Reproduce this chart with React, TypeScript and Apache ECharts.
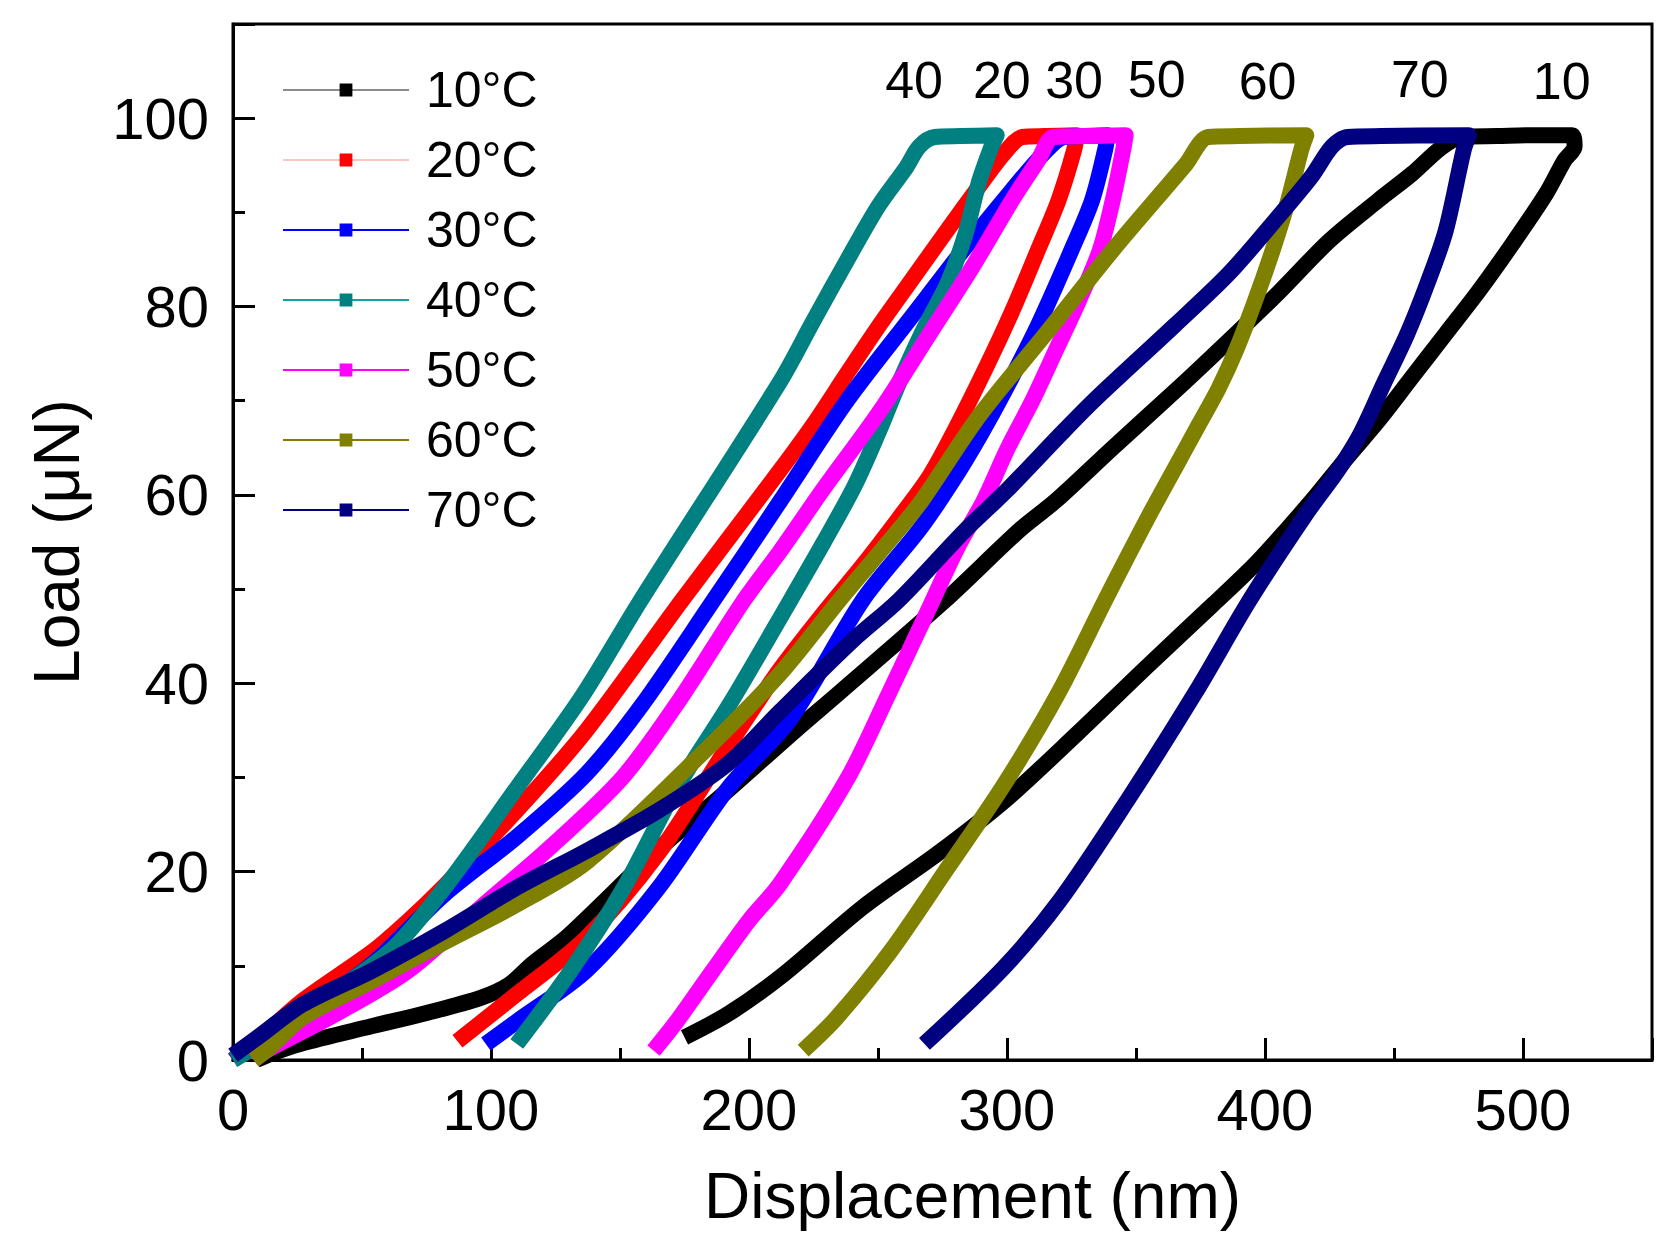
import { useEffect, useRef } from "react";
import * as echarts from "echarts";

const FONT = "'Liberation Sans', Arial, sans-serif";

const seriesNames = ["10°C", "20°C", "30°C", "40°C", "50°C", "60°C", "70°C"];
const seriesColors = ["#000000", "#ff0000", "#0000ff", "#008080", "#ff00ff", "#808000", "#000080"];
const legendLineColors = ["#8c8c8c", "#ffc4c4", "#0000ff", "#17a2a2", "#ff00ff", "#8a7a00", "#000080"];

// displacement (nm), load (uN): loading -> hold -> unloading
const curve10 = [
  [9, 0], [15, 0.7], [26, 1.7], [54, 3.6], [75, 5], [96, 6.6], [107, 8], [116, 10.2], [130, 13.2],
  [165, 22.4], [190, 28.2], [218, 35], [235, 39], [276, 48.8], [305, 56.3], [319, 59.4], [341, 65],
  [367, 71.5], [386, 76.4], [405, 81.4], [425, 87], [444, 91.3], [457, 94.1], [468, 96.8], [476, 98],
  [490, 98.1], [505, 98.2], [519, 98.2],
  [520, 97], [516, 95.5], [509, 92], [496, 86.7], [483, 81.7], [470, 77.1], [457, 72.5], [444, 67.9],
  [431, 63.7], [420, 60], [408, 56.2], [396, 52.6], [380, 48.4], [354, 41.7], [327, 34.6], [299, 27.5],
  [273, 21.9], [244, 16.2], [213, 9], [192, 4.9], [175, 2.4],
];
const curve20 = [
  [0, 0], [10, 2.2], [27, 6.3], [54, 11.5], [68, 14.8], [82, 18.5], [110, 26.5], [137, 35],
  [174, 48.8], [212, 62.6], [225, 67.5], [238, 72.9], [250, 77.8], [263, 82.8], [276, 87.8], [289, 92.7],
  [299, 96.3], [306, 98],
  [315, 98.1], [327, 98.2],
  [326, 96.6], [320, 91.3], [312, 86], [302, 79.5], [292, 73.6], [280, 67], [270, 62], [258, 57.5],
  [244, 52.5], [229, 47.5], [212, 41.5], [202, 37.5], [190, 32.5], [165, 22], [137, 13], [110, 7], [87, 2],
];
const curve30 = [
  [0, 0], [10, 2], [30, 5.5], [54, 10.2], [82, 17.6], [110, 23.7], [137, 30.4], [158, 37.5], [185, 48.3],
  [212, 59.3], [238, 70], [263, 78.9], [283, 86], [302, 92.4], [314, 96.2], [322, 98],
  [330, 98.1], [339, 98.2],
  [338, 96.6], [333, 91.3], [325, 86], [312, 78], [300, 71.5], [290, 66.5], [279, 61.5], [266, 56.3],
  [244, 48.8], [216, 36.2], [192, 28.9], [165, 18.3], [137, 9.5], [110, 4.1], [98, 1.7],
];
const curve40 = [
  [0, 0], [12, 2], [30, 5.5], [61, 11.6], [82, 18.3], [110, 28.9], [135, 38.5], [158, 48.8], [212, 72],
  [225, 78.5], [238, 84.9], [250, 90.6], [261, 94.8], [266, 97], [272, 98],
  [282, 98.1], [296, 98.2],
  [294, 97], [289, 93.1], [284, 87.8], [277, 82.5], [267, 77.2], [258, 71.8], [250, 66.5], [241, 61],
  [229, 55], [216, 48.8], [193, 38], [172, 28.9], [151.5, 18.3], [131, 9.5], [110, 1.7],
];
const curve50 = [
  [8, 0], [13, 1], [40, 4.9], [68, 9.5], [96, 16.2], [123, 22.6], [151, 30], [173, 38.2], [198, 48.8],
  [212, 54], [228.5, 60.5], [250.5, 68.8], [270, 77.1], [286.6, 84.2], [302, 91.3], [312, 95.5], [318, 98],
  [330, 98.1], [346, 98.2],
  [345, 96.6], [341, 91.3], [336, 86], [328, 80.7], [319, 75.4], [310, 70.1], [300, 64.8], [291, 59.4],
  [281, 54.5], [269, 47.5], [254, 38.8], [238, 29.8], [212, 18.7], [200, 14.8], [186, 9.5], [172, 4.1], [163, 1],
];
const curve60 = [
  [8, 0], [15, 1.5], [27, 4.5], [54, 8.4], [82, 12.5], [110, 16.5], [137, 21], [179, 31.8], [212, 41],
  [235, 48.8], [258, 56.3], [267, 59.4], [289, 68.3], [315, 77.1], [341, 86], [369, 95], [378, 98],
  [390, 98.1], [416, 98.2],
  [414, 96.6], [409, 91.3], [403, 86], [396, 80.5], [389, 75.5], [382, 71.3], [374, 67.3], [366, 63.3],
  [356, 58.3], [347, 53.6], [338, 48.8], [320, 39], [299, 29.3], [277, 20.4], [255, 11.6], [234, 4.5], [221, 1],
];
const curve70 = [
  [0, 0.5], [10, 2.5], [27, 5.9], [54, 9.5], [82, 13.7], [110, 18.3], [137, 22.2], [165, 26.5], [192, 31.5],
  [212, 37], [240, 44.5], [258, 48.8], [284, 56.3], [300, 60.5], [321, 66.5], [334, 70.1], [365, 78],
  [386, 83.5], [405, 89.5], [418, 93.8], [426, 97], [432, 98],
  [445, 98.1], [479, 98.2],
  [477, 96.6], [470, 88], [463, 82.5], [455, 77], [446, 71.8], [437, 66.5], [428, 62.5], [416, 58],
  [394, 48.8], [373, 39], [346.5, 27.5], [320.4, 16.9], [298.7, 9.8], [268, 1.7],
];
const curves = [curve10, curve20, curve30, curve40, curve50, curve60, curve70];

// temperature tags above the peaks
const peakLabels = ["40", "20", "30", "50", "60", "70", "10"];
const peakLabelX = [264, 298, 326, 358, 401, 460, 515];
const peakLabelY = [104.1, 104.1, 104.1, 104.2, 103.9, 104.2, 104.0];

const xLabelEvery = 100;
const yLabelEvery = 20;

export default function App() {
  const chartRef = useRef<HTMLDivElement>(null);

  useEffect(() => {
    if (!chartRef.current) return;
    const chart = echarts.init(chartRef.current, undefined, { renderer: "svg" });

    const tickLine = { color: "#000", width: 3 };

    const option: any = {
      animation: false,
      backgroundColor: "#ffffff",
      textStyle: { fontFamily: FONT },
      grid: {
        left: 233,
        top: 24,
        right: 23,
        bottom: 181,
        show: true,
        borderColor: "#000",
        borderWidth: 3,
        outerBoundsMode: "none",
      },
      legend: {
        orient: "vertical",
        left: 282,
        top: 65,
        padding: 0,
        itemWidth: 126,
        itemHeight: 16,
        itemGap: 20,
        selectedMode: false,
        lineStyle: { width: 2 },
        data: seriesNames.map((n, i) => ({
          name: n,
          lineStyle: { color: legendLineColors[i], width: 2 },
        })),
        textStyle: {
          fontSize: 50,
          lineHeight: 50,
          color: "#000",
          fontFamily: FONT,
          padding: [0, 0, 0, 12],
        },
      },
      xAxis: [
        {
          type: "value",
          min: 0,
          max: 550,
          interval: 50,
          position: "bottom",
          axisLine: { show: true, onZero: false, lineStyle: tickLine },
          axisTick: { show: true, inside: true, length: 12, lineStyle: tickLine },
          axisLabel: {
            formatter: (v: number) => (v % xLabelEvery === 0 ? String(v) : ""),
            fontSize: 58,
            color: "#000",
            margin: 20,
            fontFamily: FONT,
          },
          splitLine: { show: false },
          name: "Displacement (nm)",
          nameLocation: "middle",
          nameGap: 104,
          nameTextStyle: { fontSize: 64, color: "#000", fontFamily: FONT, padding: [0, 0, 0, 60] },
        },
        {
          type: "value",
          min: 0,
          max: 550,
          interval: 100,
          position: "bottom",
          axisLine: { show: false },
          axisTick: { show: true, inside: true, length: 22, lineStyle: tickLine },
          axisLabel: { show: false },
          splitLine: { show: false },
        },
      ],
      yAxis: [
        {
          type: "value",
          min: 0,
          max: 110,
          interval: 10,
          position: "left",
          axisLine: { show: true, onZero: false, lineStyle: tickLine },
          axisTick: { show: true, inside: true, length: 12, lineStyle: tickLine },
          axisLabel: {
            formatter: (v: number) => (v % yLabelEvery === 0 && v <= 100 ? String(v) : ""),
            fontSize: 58,
            color: "#000",
            margin: 24,
            fontFamily: FONT,
          },
          splitLine: { show: false },
          name: "Load (μN)",
          nameLocation: "middle",
          nameRotate: 90,
          nameGap: 144,
          nameTextStyle: { fontSize: 64, color: "#000", fontFamily: FONT },
        },
        {
          type: "value",
          min: 0,
          max: 110,
          interval: 20,
          position: "left",
          axisLine: { show: false },
          axisTick: { show: true, inside: true, length: 22, lineStyle: tickLine },
          axisLabel: { show: false },
          splitLine: { show: false },
        },
      ],
      series: [
        ...curves.map((data, i) => ({
          name: seriesNames[i],
          type: "line",
          xAxisIndex: 0,
          yAxisIndex: 0,
          data,
          smooth: 0.3,
          showSymbol: false,
          symbol: "rect",
          clip: false,
          silent: true,
          lineStyle: { color: seriesColors[i], width: 16, cap: "butt", join: "round" },
          itemStyle: { color: seriesColors[i] },
          emphasis: { disabled: true },
        })),
        {
          name: "peak labels",
          type: "scatter",
          xAxisIndex: 0,
          yAxisIndex: 0,
          symbolSize: 0,
          silent: true,
          itemStyle: { color: "#000", opacity: 1 },
          data: peakLabelX.map((x, i) => [x, peakLabelY[i]]),
          label: {
            show: true,
            position: "inside",
            formatter: (p: any) => peakLabels[p.dataIndex],
            fontSize: 52,
            color: "#000",
            opacity: 1,
            textBorderWidth: 0,
            fontFamily: FONT,
          },
          z: 10,
        },
      ],
    };

    chart.setOption(option);

    return () => {
      chart.dispose();
    };
  }, []);

  return (
    <div
      ref={chartRef}
      style={{ position: "fixed", left: 0, top: 0, width: 1675, height: 1241, background: "#fff" }}
    />
  );
}
